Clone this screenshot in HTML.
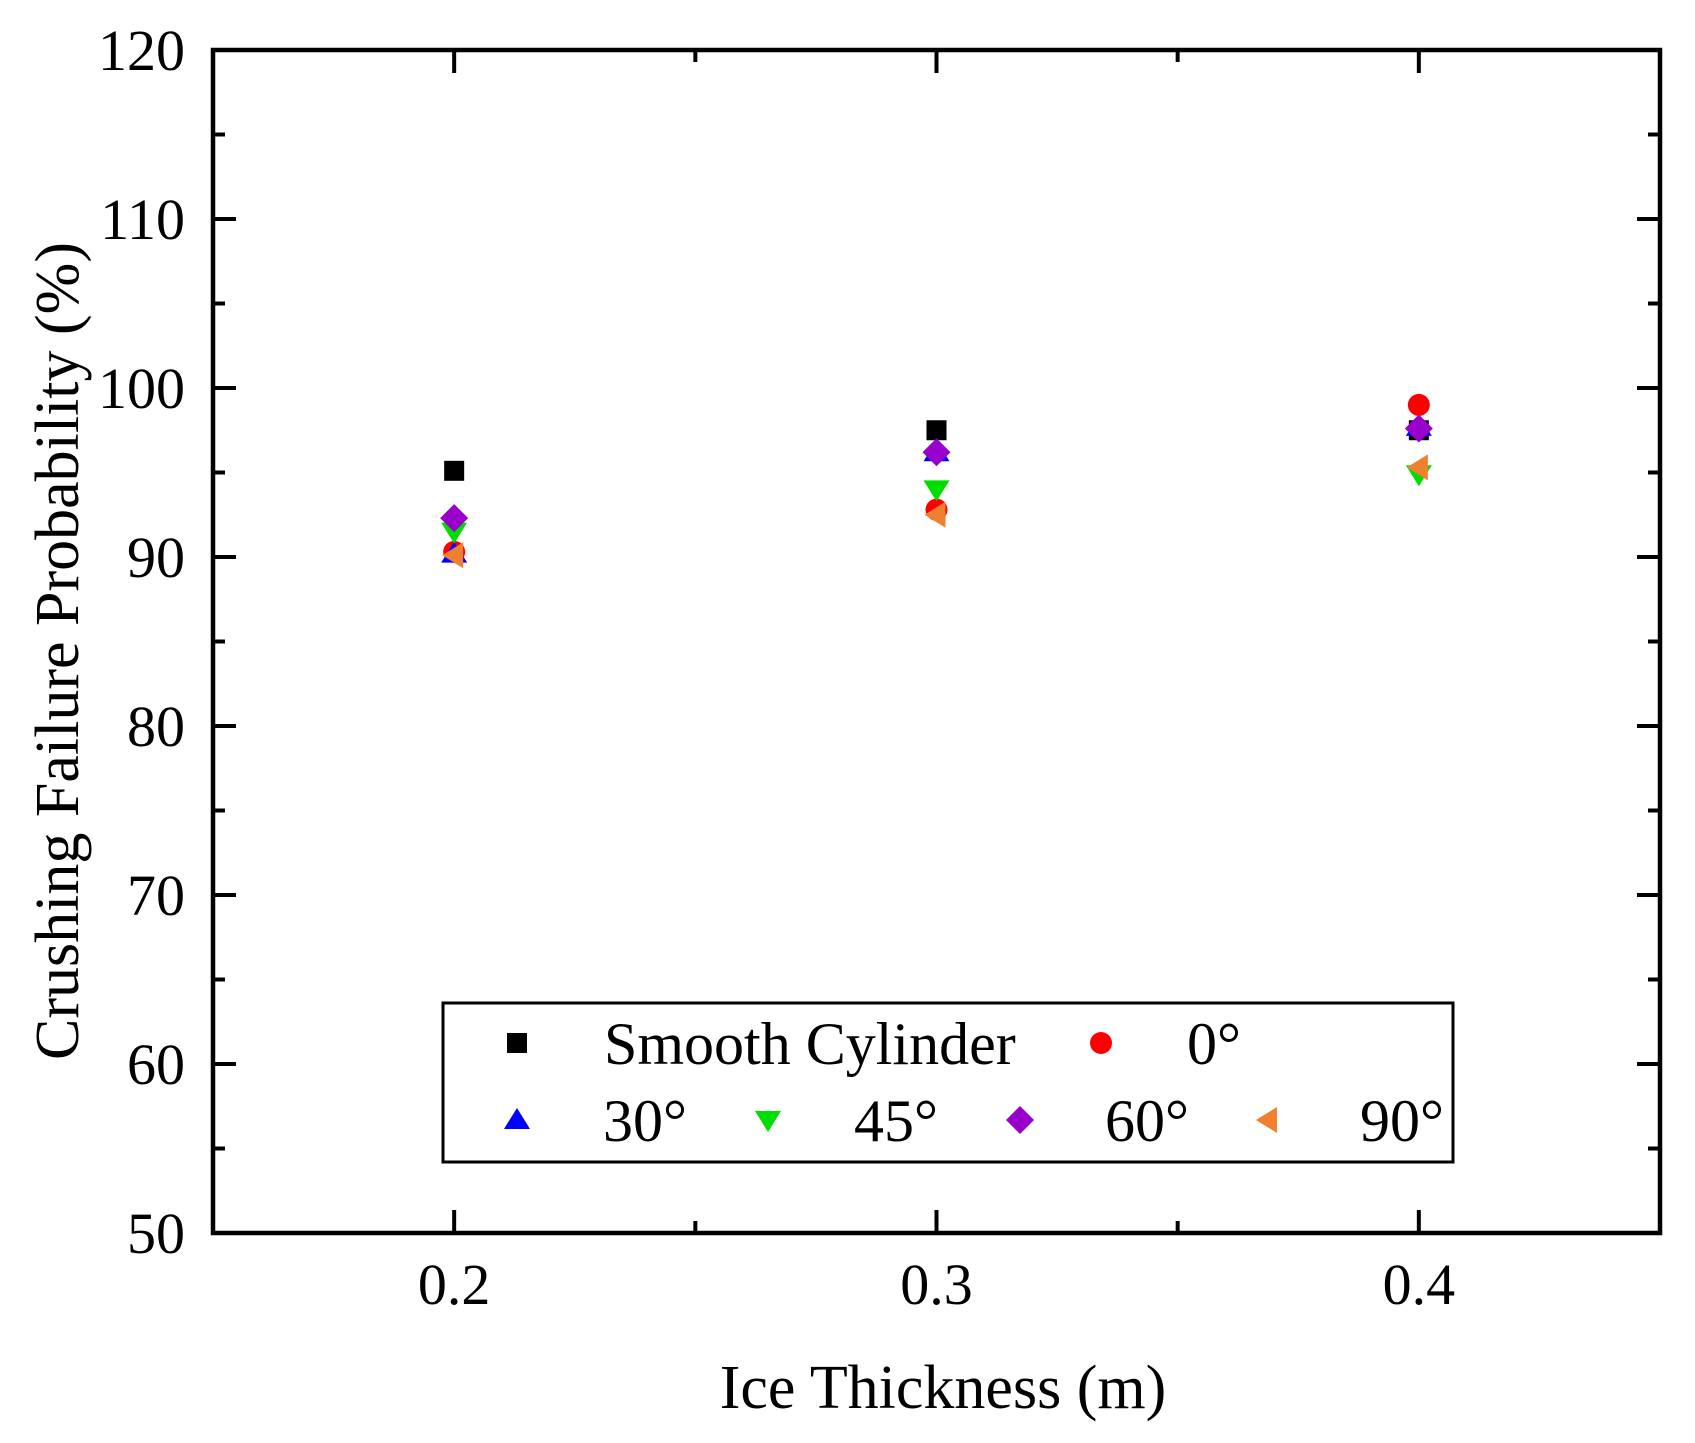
<!DOCTYPE html>
<html><head><meta charset="utf-8"><style>
html,body{margin:0;padding:0;background:#fff;}
svg{display:block;font-family:"Liberation Serif",serif;}
</style></head><body>
<svg id="chart" width="1695" height="1443" viewBox="0 0 1695 1443" xmlns="http://www.w3.org/2000/svg">
<g id="axes"></g>
<g id="marks"></g>
<g id="legend"></g>
<text x="943" y="1408" font-size="62" text-anchor="middle">Ice Thickness (m)</text>
<text transform="translate(78,651) rotate(-90)" font-size="62" text-anchor="middle">Crushing Failure Probability (%)</text>
</svg>
<script>
const categories = [0.2, 0.3, 0.4];
const seriesNames = ["Smooth Cylinder", "0°", "30°", "45°", "60°", "90°"];
const smooth = [95.1, 97.5, 97.5];
const deg0 = [90.3, 92.8, 99.0];
const deg30 = [90.2, 96.2, 97.7];
const deg45 = [91.5, 94.0, 94.9];
const deg60 = [92.3, 96.2, 97.6];
const deg90 = [90.1, 92.5, 95.3];
const yTicks = [50, 60, 70, 80, 90, 100, 110, 120];
const xTicks = [0.2, 0.3, 0.4];
const xTickLabels = ["0.2", "0.3", "0.4"];

const NS = "http://www.w3.org/2000/svg";
const L = 213, R = 1660, T = 50, B = 1233;
const xMin = 0.15, xMax = 0.45, yMin = 50, yMax = 120;
function xs(v){ return L + (v - xMin) / (xMax - xMin) * (R - L); }
function ys(v){ return B - (v - yMin) / (yMax - yMin) * (B - T); }
function mk(tag, attrs, parent){ const e = document.createElementNS(NS, tag); for (const k in attrs) e.setAttribute(k, attrs[k]); parent.appendChild(e); return e; }

const axes = document.getElementById('axes');
const frame = mk('rect', {x:L, y:T, width:R-L, height:B-T, fill:'none', stroke:'#000', 'stroke-width':4.5}, axes);



for (let i = 0; i < yTicks.length; i++) {
  const v = yTicks[i], y = ys(v);
  mk('line', {x1:L, x2:L+23, y1:y, y2:y, stroke:'#000', 'stroke-width':4}, axes);
  mk('line', {x1:R, x2:R-23, y1:y, y2:y, stroke:'#000', 'stroke-width':4}, axes);
  if (i < yTicks.length - 1) {
    const ym = ys(v + 5);
    mk('line', {x1:L, x2:L+12, y1:ym, y2:ym, stroke:'#000', 'stroke-width':4}, axes);
    mk('line', {x1:R, x2:R-12, y1:ym, y2:ym, stroke:'#000', 'stroke-width':4}, axes);
  }
  const t = mk('text', {x:185, y:y+20, 'font-size':58, 'text-anchor':'end'}, axes);
  t.textContent = String(v);
  
  
}
for (let i = 0; i < xTicks.length; i++) {
  const x = xs(xTicks[i]);
  mk('line', {x1:x, x2:x, y1:B, y2:B-23, stroke:'#000', 'stroke-width':4}, axes);
  mk('line', {x1:x, x2:x, y1:T, y2:T+23, stroke:'#000', 'stroke-width':4}, axes);
  const t = mk('text', {x:x, y:1304, 'font-size':58, 'text-anchor':'middle'}, axes);
  t.textContent = xTickLabels[i];
  
  
}
for (const v of [0.25, 0.35]) {
  const x = xs(v);
  mk('line', {x1:x, x2:x, y1:B, y2:B-12, stroke:'#000', 'stroke-width':4}, axes);
  mk('line', {x1:x, x2:x, y1:T, y2:T+12, stroke:'#000', 'stroke-width':4}, axes);
}

const colors = ['#000000', '#ff0000', '#0000ff', '#00dd00', '#9900cc', '#f08030'];
const shapes = ['square', 'circle', 'up', 'down', 'diamond', 'left'];
function marker(shape, cx, cy, color, parent){
  const s = 10;
  if (shape === 'square') return mk('rect', {x:cx-s, y:cy-s, width:2*s, height:2*s, fill:color}, parent);
  if (shape === 'circle') return mk('circle', {cx:cx, cy:cy, r:s+1, fill:color}, parent);
  let pts;
  if (shape === 'up') pts = [[cx, cy-12],[cx+13, cy+9],[cx-13, cy+9]];
  else if (shape === 'down') pts = [[cx-13, cy-9],[cx+13, cy-9],[cx, cy+12]];
  else if (shape === 'diamond') pts = [[cx, cy-14],[cx+14, cy],[cx, cy+14],[cx-14, cy]];
  else pts = [[cx-12, cy],[cx+9, cy-13],[cx+9, cy+13]];
  return mk('polygon', {points: pts.map(p => p.join(',')).join(' '), fill:color}, parent);
}

const series = [smooth, deg0, deg30, deg45, deg60, deg90];
const marks = document.getElementById('marks');
for (let s = 0; s < series.length; s++) {
  for (let i = 0; i < categories.length; i++) {
    const m = marker(shapes[s], xs(categories[i]), ys(series[s][i]), colors[s], marks);
    
    
  }
}

const legend = document.getElementById('legend');
const box = mk('rect', {x:443, y:1003, width:1010, height:159, fill:'#fff', stroke:'#000', 'stroke-width':3}, legend);


const legPos = [[517,1043,604],[1101,1043,1187],[517,1120,603],[768,1120,854],[1020,1120,1105],[1268,1120,1360]];
for (let s = 0; s < series.length; s++) {
  const p = legPos[s];
  const m = marker(shapes[s], p[0], p[1], colors[s], legend);
  
  
  const t = mk('text', {x:p[2], y:p[1]+21, 'font-size':60}, legend);
  t.textContent = seriesNames[s];
  
  
}
</script>
</body></html>
